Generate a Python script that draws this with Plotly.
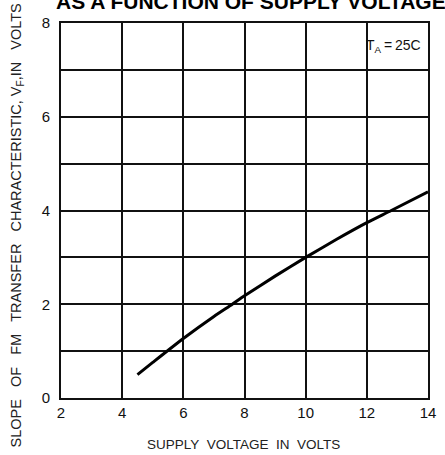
import plotly.graph_objects as go

# Data
supply_voltage = [4.5, 5.0, 6.0, 7.0, 7.6, 8.0, 9.0, 10.0, 11.0, 12.0, 12.8, 14.0]
slope_vf = [0.50, 0.76, 1.27, 1.74, 2.00, 2.18, 2.60, 3.00, 3.38, 3.74, 4.00, 4.40]
x_ticks = [2, 4, 6, 8, 10, 12, 14]
y_ticks = [0, 2, 4, 6, 8]

FONT = "Liberation Sans, Arial, sans-serif"
NB = "\u00a0"

fig = go.Figure()
fig.add_trace(go.Scatter(
    x=supply_voltage, y=slope_vf, mode="lines",
    line=dict(color="black", width=3, shape="spline", smoothing=0.6),
    showlegend=False, hoverinfo="skip",
))

fig.update_layout(
    width=445, height=455,
    margin=dict(l=61, r=9, t=23, b=57),
    paper_bgcolor="white", plot_bgcolor="white",
    font=dict(family=FONT, color="#111"),
    xaxis=dict(
        range=[2, 14], tickvals=x_ticks, ticktext=[str(v) for v in x_ticks],
        showgrid=True, gridcolor="#111", gridwidth=1.5,
        showline=True, linecolor="#111", linewidth=2, mirror=True,
        ticks="", tickfont=dict(size=15, family=FONT, color="#111"),
        ticklabeloverflow="allow",
        zeroline=False, fixedrange=True,
    ),
    yaxis=dict(
        range=[0, 8], tickvals=y_ticks, ticktext=[str(v) for v in y_ticks],
        showgrid=True, gridcolor="#111", gridwidth=1.5,
        minor=dict(dtick=1, showgrid=True, gridcolor="#111", gridwidth=1.5, ticks=""),
        showline=True, linecolor="#111", linewidth=2, mirror=True,
        ticks="", tickfont=dict(size=15, family=FONT, color="#111"),
        ticklabelstandoff=6,
        zeroline=False, fixedrange=True,
    ),
    annotations=[
        dict(text="AS A FUNCTION OF SUPPLY VOLTAGE", xref="paper", yref="paper",
             x=-0.019, y=1.058, xanchor="left", yanchor="middle", showarrow=False,
             font=dict(size=21, family=FONT, color="black", weight="bold")),
        dict(text=f"SLOPE{NB*3}OF{NB*3}FM{NB*3}TRANSFER{NB*3}CHARACTERISTIC,{NB}V<sub>F</sub>,IN{NB*3}VOLTS",
             xref="paper", yref="paper", x=-0.12, y=0.46, xanchor="center", yanchor="middle",
             textangle=-90, showarrow=False,
             font=dict(size=14.5, family=FONT, color="#222")),
        dict(text=f"SUPPLY{NB*2}VOLTAGE{NB*2}IN{NB*2}VOLTS", xref="paper", yref="paper",
             x=0.496, y=-0.125, xanchor="center", yanchor="middle", showarrow=False,
             font=dict(size=13.5, family=FONT, color="#222")),
        dict(text="T<sub>A</sub>\u2009=\u200925C", xref="x", yref="y",
             x=11.9, y=7.5, xanchor="left", yanchor="middle", showarrow=False,
             font=dict(size=14, family=FONT, color="#111")),
    ],
)

fig.write_html("out.html", config={"displayModeBar": False},
               post_script="document.body.style.margin='0';")
